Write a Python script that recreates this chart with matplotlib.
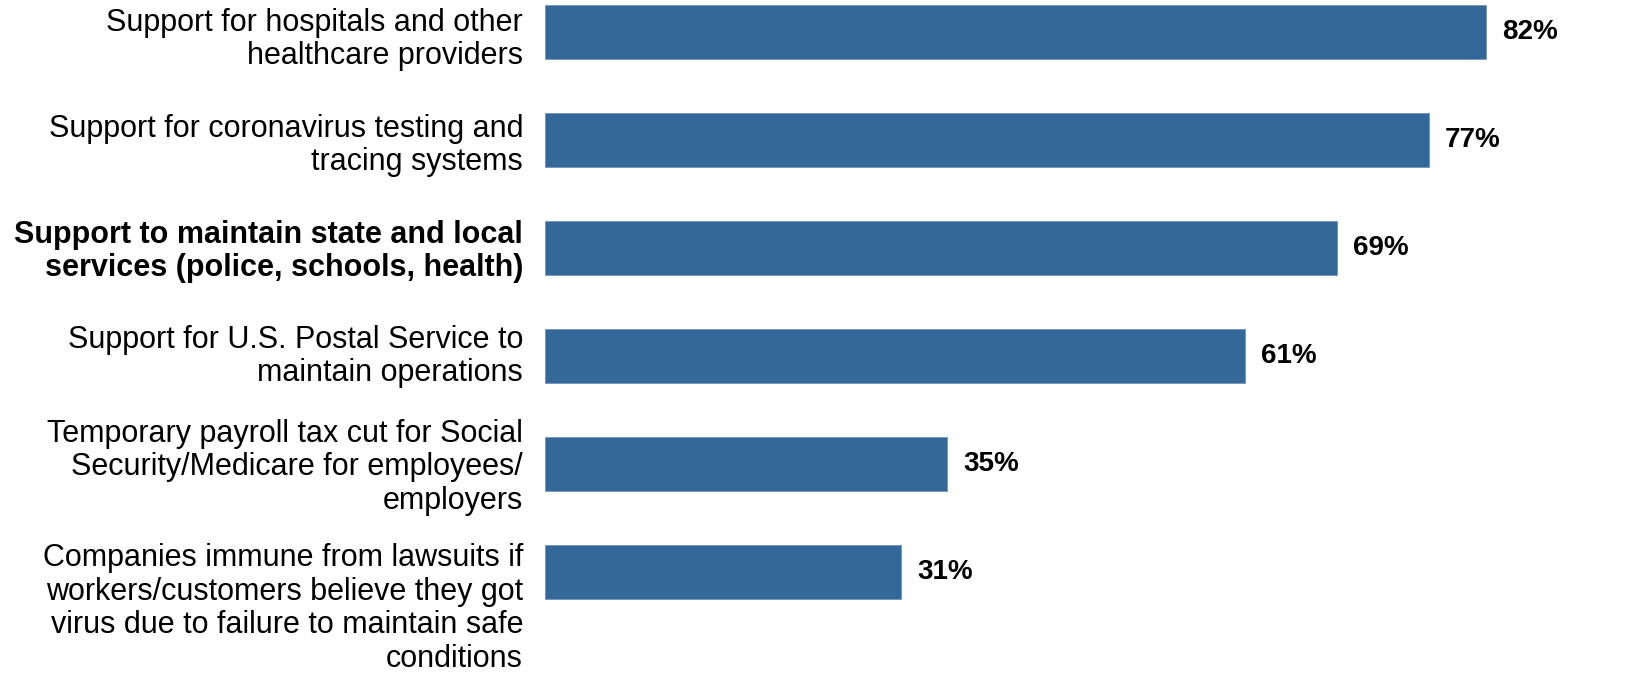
import matplotlib
matplotlib.use("Agg")
import matplotlib.pyplot as plt
import matplotlib.transforms as mtransforms

categories = [
    "Support for hospitals and other\nhealthcare providers",
    "Support for coronavirus testing and\ntracing systems",
    "Support to maintain state and local\nservices (police, schools, health)",
    "Support for U.S. Postal Service to\nmaintain operations",
    "Temporary payroll tax cut for Social\nSecurity/Medicare for employees/\nemployers",
    "Companies immune from lawsuits if\nworkers/customers believe they got\nvirus due to failure to maintain safe\nconditions",
]
values = [82, 77, 69, 61, 35, 31]
bold_rows = [2]
# small vertical nudges (pixels, +down) for the wrapped labels
label_nudge = [5, 3, 1, -2, 1, 1]

plt.rcParams["font.family"] = ["Liberation Sans", "DejaVu Sans"]

fig = plt.figure(figsize=(16.25, 6.76), dpi=100)
ax = fig.add_axes([0.3354, 0.0734, 0.664, 0.9266])

bar_h = 0.5
ys = list(range(len(values)))
ax.barh(ys, values, height=bar_h, color="#346899", edgecolor="#6f93b8", linewidth=0.6)

for y, v in zip(ys, values):
    ax.text(v + 1.4, y, f"{v}%", va="center", ha="left", fontsize=20,
            fontweight="bold", color="black")

# category labels, right-aligned left of the bars
base = mtransforms.blended_transform_factory(ax.transAxes, ax.transData)
for i, (y, lab) in enumerate(zip(ys, categories)):
    n_lines = lab.count("\n") + 1
    dy = -label_nudge[i] / 100
    if n_lines > 3:
        # long label hangs from the top of its bar
        tr = base + mtransforms.ScaledTranslation(-0.22, 0.03 + dy, fig.dpi_scale_trans)
        ax.text(0, y - bar_h / 2, lab, transform=tr, ha="right", va="top",
                fontsize=22, linespacing=1.15, clip_on=False)
    else:
        tr = base + mtransforms.ScaledTranslation(-0.22, -0.02 + dy, fig.dpi_scale_trans)
        ax.text(0, y, lab, transform=tr, ha="right", va="center", fontsize=22,
                linespacing=1.16, fontweight="bold" if i in bold_rows else "normal",
                clip_on=False)

ax.set_xlim(0, 94)
ax.set_ylim(5.5, -0.3)
ax.set_xticks([])
ax.set_yticks([])
for s in ax.spines.values():
    s.set_visible(False)

fig.savefig("out.png", dpi=100)
